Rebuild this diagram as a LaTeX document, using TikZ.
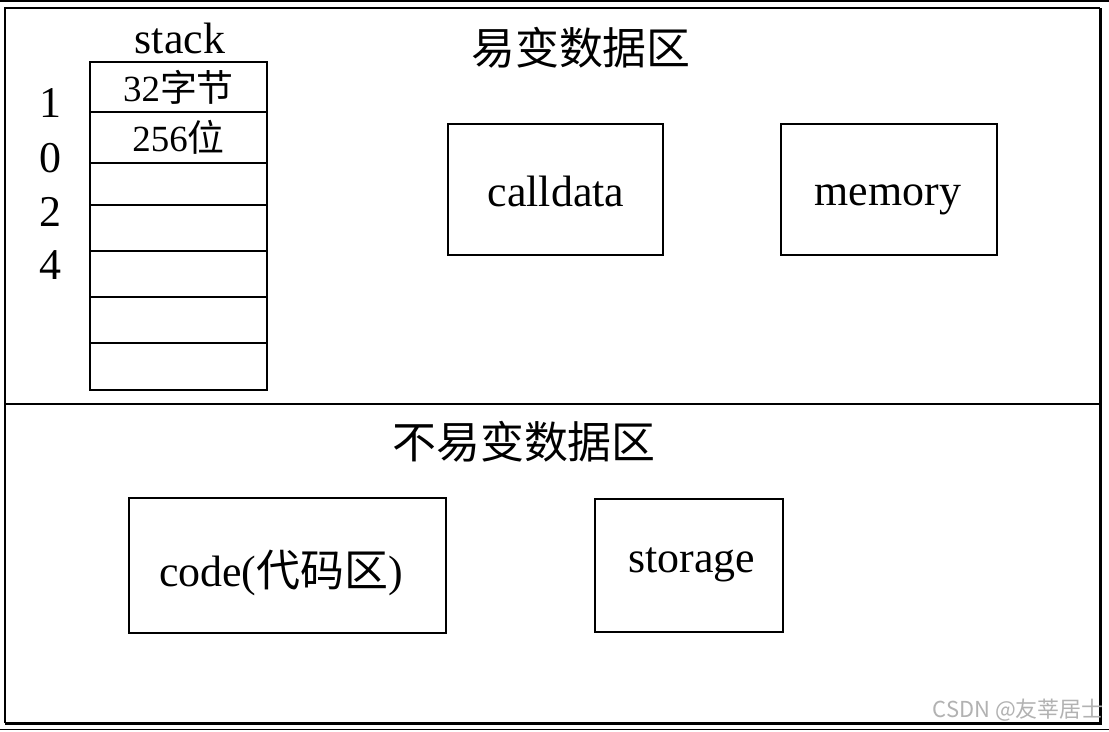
\documentclass[tikz,border=0pt]{standalone}
\usepackage{fontspec}
\setmainfont{Liberation Serif}
\newfontfamily\cjk{Noto Sans CJK SC}
\usepackage{tikz}
\usetikzlibrary{positioning}

\tikzset{
  regbox/.style={draw, line width=1pt, inner sep=0pt},
  cellbox/.style={draw, line width=0.9pt, inner sep=0pt, minimum width=3.54cm, font=\fontsize{21}{24}\selectfont},
  bigtxt/.style={inner sep=0pt, font=\fontsize{25}{28}\selectfont},
}

\begin{document}
\begin{tikzpicture}[x=0.02cm, y=-0.02cm]
\useasboundingbox (0,0) rectangle (1109,731);
% ---------- page edges ----------
\draw[line width=0.8pt] (0,1) -- (1109,1);
\draw[line width=0.8pt] (0,729.5) -- (1109,729.5);
% ---------- outer frame ----------
\fill[white] (5,8) rectangle (1100,723);
\draw[line width=0.8pt] (5,723) -- (5,8) -- (1100,8);
\draw[line width=1.7pt] (1100,8) -- (1100,723) -- (5,723);
\draw[line width=0.8pt] (5,404) -- (1100,404);
% ---------- volatile area ----------
\node[bigtxt] (vtitle) at (581,48) {\cjk 易变数据区};
\node[bigtxt] (stitle) at (180,38) {stack};
\node[cellbox, minimum height=1.0cm] (c1) at (178.5,87) {32{\cjk 字节}};
\node[cellbox, minimum height=1.02cm] (c2) at (178.5,137.5) {256{\cjk 位}};
\node[cellbox, minimum height=0.84cm] (c3) at (178.5,184) {};
\node[cellbox, minimum height=0.92cm] (c4) at (178.5,228) {};
\node[cellbox, minimum height=0.92cm] (c5) at (178.5,274) {};
\node[cellbox, minimum height=0.92cm] (c6) at (178.5,320) {};
\node[cellbox, minimum height=0.94cm] (c7) at (178.5,366.5) {};
\node[bigtxt] (d1) at (50,103) {1};
\node[bigtxt] (d2) at (50,158) {0};
\node[bigtxt] (d3) at (50,212) {2};
\node[bigtxt] (d4) at (50,265) {4};
\node[regbox, minimum width=4.3cm, minimum height=2.62cm] (calldata) at (555.5,189.5) {};
\node[bigtxt, anchor=base] (calldatatxt) at (556,206) {calldata};
\node[regbox, minimum width=4.32cm, minimum height=2.62cm] (memory) at (889,189.5) {};
\node[bigtxt, anchor=base] (memorytxt) at (888,205) {memory};
% ---------- non-volatile area ----------
\node[bigtxt] (ntitle) at (524,442) {\cjk 不易变数据区};
\node[regbox, minimum width=6.34cm, minimum height=2.7cm] (code) at (287.5,565.5) {};
\node[bigtxt, anchor=base] (codetxt) at (281,586) {code({\cjk 代码区})};
\node[regbox, minimum width=3.76cm, minimum height=2.66cm] (storage) at (689,565.5) {};
\node[bigtxt, anchor=base] (storagetxt) at (692,572) {storage};
% ---------- watermark ----------
\node[anchor=base east, inner sep=0pt, text=black!30, font=\cjk\fontsize{12.5}{14}\selectfont] (mark) at (1104,717) {CSDN @友莘居士};
\end{tikzpicture}
\end{document}
